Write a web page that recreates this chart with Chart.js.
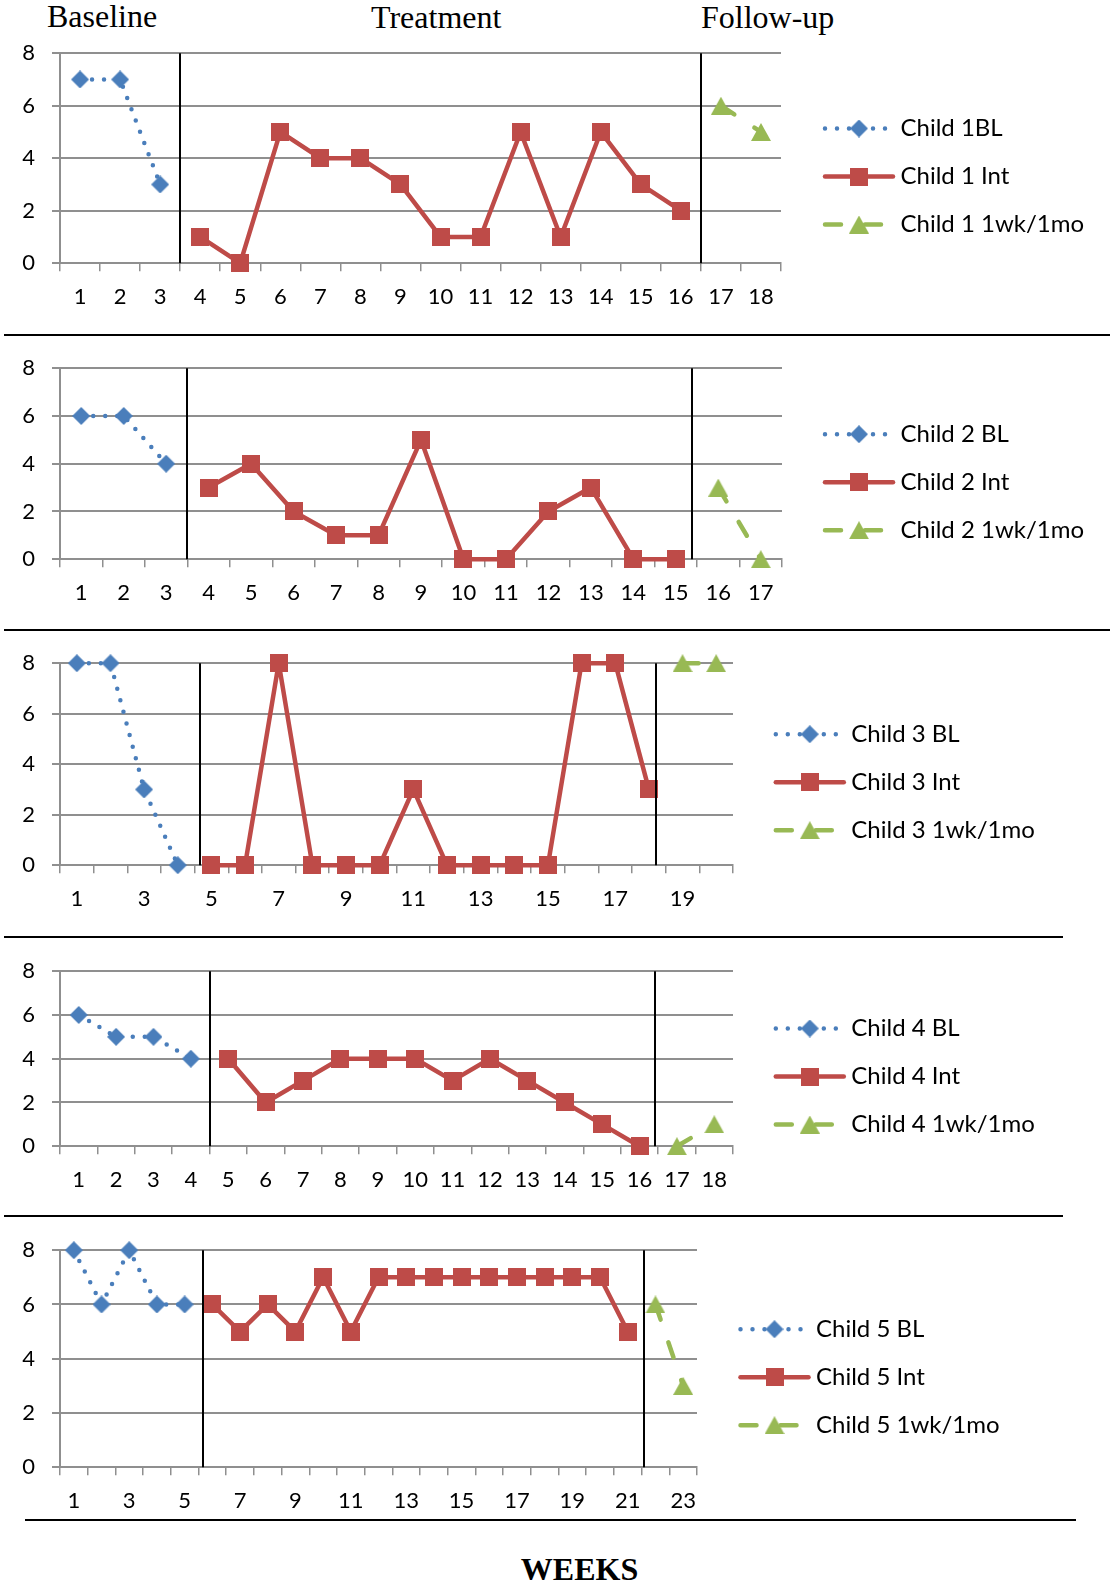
<!DOCTYPE html>
<html>
<head>
<meta charset="utf-8">
<script src="https://cdn.jsdelivr.net/npm/chart.js@4.4.1/dist/chart.umd.min.js"></script>
<style>
  html, body { margin: 0; padding: 0; background: #fff; }
  body { width: 1110px; height: 1585px; position: relative; overflow: hidden; }
  .phase { position: absolute; font-family: "Liberation Serif", "Times New Roman", serif; font-size: 32px; line-height: 32px; color: #000; white-space: nowrap; }
  .rule { position: absolute; height: 2px; background: #000; }
  canvas { position: absolute; left: 0; }
  #weeks { position: absolute; left: 0; width: 1159px; top: 1553px; text-align: center; font-family: "Liberation Serif", "Times New Roman", serif; font-weight: bold; font-size: 32px; line-height: 32px; color: #000; }
</style>
</head>
<body>
<div class="phase" id="ph0" style="left:47px; top:0px;"></div>
<div class="phase" id="ph1" style="left:371px; top:1px;"></div>
<div class="phase" id="ph2" style="left:701px; top:1px;"></div>

<div class="rule" style="top:334px; left:4px; width:1106px;"></div>
<div class="rule" style="top:629px; left:4px; width:1106px;"></div>
<div class="rule" style="top:936px; left:4px; width:1059px;"></div>
<div class="rule" style="top:1215px; left:4px; width:1059px;"></div>
<div class="rule" style="top:1519px; left:25px; width:1051px;"></div>

<div id="weeks"></div>

<canvas id="c1"></canvas>
<canvas id="c2"></canvas>
<canvas id="c3"></canvas>
<canvas id="c4"></canvas>
<canvas id="c5"></canvas>

<script>
// ---- data ----
const phaseNames = ['Baseline', 'Treatment', 'Follow-up'];
const axisTitle = 'WEEKS';
const scoreTicks = [0, 2, 4, 6, 8];

const child1Weeks = [1, 2, 3, 4, 5, 6, 7, 8, 9, 10, 11, 12, 13, 14, 15, 16, 17, 18];
const child1Baseline = [7, 7, 3];
const child1Treatment = [1, 0, 5, 4, 4, 3, 1, 1, 5, 1, 5, 3, 2];
const child1FollowUp = [6, 5];
const child1Series = ['Child 1BL', 'Child 1 Int', 'Child 1 1wk/1mo'];

const child2Weeks = [1, 2, 3, 4, 5, 6, 7, 8, 9, 10, 11, 12, 13, 14, 15, 16, 17];
const child2Baseline = [6, 6, 4];
const child2Treatment = [3, 4, 2, 1, 1, 5, 0, 0, 2, 3, 0, 0];
const child2FollowUp = [3, 0];
const child2Series = ['Child 2 BL', 'Child 2 Int', 'Child 2 1wk/1mo'];

const child3Weeks = [1, 2, 3, 4, 5, 6, 7, 8, 9, 10, 11, 12, 13, 14, 15, 16, 17, 18, 19, 20];
const child3Baseline = [8, 8, 3, 0];
const child3Treatment = [0, 0, 8, 0, 0, 0, 3, 0, 0, 0, 0, 8, 8, 3];
const child3FollowUp = [8, 8];
const child3Series = ['Child 3 BL', 'Child 3 Int', 'Child 3 1wk/1mo'];

const child4Weeks = [1, 2, 3, 4, 5, 6, 7, 8, 9, 10, 11, 12, 13, 14, 15, 16, 17, 18];
const child4Baseline = [6, 5, 5, 4];
const child4Treatment = [4, 2, 3, 4, 4, 4, 3, 4, 3, 2, 1, 0];
const child4FollowUp = [0, 1];
const child4Series = ['Child 4 BL', 'Child 4 Int', 'Child 4 1wk/1mo'];

const child5Weeks = [1, 2, 3, 4, 5, 6, 7, 8, 9, 10, 11, 12, 13, 14, 15, 16, 17, 18, 19, 20, 21, 22, 23];
const child5Baseline = [8, 6, 8, 6, 6];
const child5Treatment = [6, 5, 6, 5, 7, 5, 7, 7, 7, 7, 7, 7, 7, 7, 7, 5];
const child5FollowUp = [6, 3];
const child5Series = ['Child 5 BL', 'Child 5 Int', 'Child 5 1wk/1mo'];

// ---- text ----
phaseNames.forEach((t, i) => { document.getElementById('ph' + i).textContent = t; });
document.getElementById('weeks').textContent = axisTitle;

// ---- styles ----
const BLUE = '#4a7ebb';
const RED = '#be4b48';
const GREEN = '#98b954';
const GRID = '#8f8f8f';
const TICK_FONT = { family: 'Lato', size: 22 };
const LEGEND_FONT = '24px Lato';

function marker(shape, color, w, h) {
  const c = document.createElement('canvas');
  c.width = w; c.height = h;
  const g = c.getContext('2d');
  g.fillStyle = color;
  g.beginPath();
  if (shape === 'diamond') {
    g.moveTo(w / 2, 0); g.lineTo(w, h / 2); g.lineTo(w / 2, h); g.lineTo(0, h / 2);
  } else if (shape === 'triangle') {
    g.moveTo(w / 2, 0); g.lineTo(w, h); g.lineTo(0, h);
  } else {
    g.rect(0, 0, w, h);
  }
  g.closePath();
  g.fill();
  return c;
}
const DIAMOND = marker('diamond', BLUE, 18, 18);
const SQUARE = marker('square', RED, 18, 18);
const TRIANGLE = marker('triangle', GREEN, 20, 18);

// phase lines + legend drawn inside each chart canvas
const phaseAndLegend = {
  id: 'phaseAndLegend',
  afterDatasetsDraw(chart, args, opts) {
    const { ctx, chartArea, scales } = chart;
    const x = scales.x;
    ctx.save();
    ctx.strokeStyle = '#000';
    ctx.lineWidth = 2;
    opts.boundaries.forEach(b => {
      const px = Math.round(x.getPixelForValue(b - 0.5));
      ctx.beginPath();
      ctx.moveTo(px, chartArea.top);
      ctx.lineTo(px, chartArea.bottom);
      ctx.stroke();
    });
    ctx.restore();
  },
  afterDraw(chart, args, opts) {
    const ctx = chart.ctx;
    const canvasTop = parseFloat(chart.canvas.style.top) || 0;
    chart.data.datasets.forEach((ds, i) => {
      const y = opts.legendTop + i * 48 - canvasTop;
      const cx = opts.legendX;
      ctx.save();
      ctx.strokeStyle = ds.borderColor;
      ctx.lineWidth = ds.borderWidth;
      ctx.lineCap = ds.borderCapStyle;
      ctx.setLineDash(ds.borderDash || []);
      ctx.beginPath();
      ctx.moveTo(cx - 34, y);
      ctx.lineTo(cx + 34, y);
      ctx.stroke();
      ctx.setLineDash([]);
      const img = ds.pointStyle;
      ctx.drawImage(img, cx - img.width / 2, y - img.height / 2);
      ctx.fillStyle = '#000';
      ctx.font = LEGEND_FONT;
      ctx.textBaseline = 'middle';
      ctx.textAlign = 'left';
      ctx.fillText(ds.label, cx + 41.5, y);
      ctx.restore();
    });
  }
};

function pad(n) { return new Array(n).fill(null); }

function buildChart(c) {
  const PAD_TOP = 20, X_AXIS_H = 50, Y_AXIS_W = 60;
  const canvas = document.getElementById(c.id);
  let h = (c.bottom - c.top) + PAD_TOP + X_AXIS_H;
  canvas.width = 1110; canvas.height = h;
  canvas.style.top = (c.top - PAD_TOP) + 'px';
  canvas.style.width = '1110px'; canvas.style.height = h + 'px';

  const nB = c.bl.length, nT = c.tr.length, nF = c.fu.length;
  const labels = c.weeks.map(String);
  const blData = c.bl.concat(pad(nT + nF));
  const trData = pad(nB).concat(c.tr, pad(nF));
  const fuData = pad(nB + nT).concat(c.fu);

  const common = { tension: 0, spanGaps: false, clip: false, pointRadius: 9, pointHoverRadius: 9, borderWidth: 4.5, fill: false };

  const chart = new Chart(canvas, {
    type: 'line',
    data: {
      labels: labels,
      datasets: [
        Object.assign({}, common, { label: c.names[0], data: blData, borderColor: BLUE, backgroundColor: BLUE, pointStyle: DIAMOND, borderDash: [0, 12], borderCapStyle: 'round', order: 1 }),
        Object.assign({}, common, { label: c.names[1], data: trData, borderColor: RED, backgroundColor: RED, pointStyle: SQUARE, borderDash: [], borderCapStyle: 'round', borderJoinStyle: 'round', order: 2 }),
        Object.assign({}, common, { label: c.names[2], data: fuData, borderColor: GREEN, backgroundColor: GREEN, pointStyle: TRIANGLE, borderDash: [16, 24], borderCapStyle: 'round', order: 3 })
      ]
    },
    options: {
      responsive: false,
      maintainAspectRatio: false,
      animation: false,
      events: [],
      layout: { padding: { top: PAD_TOP, left: 0, right: 1110 - c.right, bottom: 0 } },
      plugins: {
        legend: { display: false },
        tooltip: { enabled: false },
        title: { display: false },
        phaseAndLegend: {
          boundaries: [nB + c.nudge[0], nB + nT + c.nudge[1]],
          legendX: c.legendX,
          legendTop: c.legendTop
        }
      },
      scales: {
        x: {
          type: 'category',
          offset: true,
          grid: { offset: true, drawOnChartArea: false, drawTicks: true, tickLength: 8, color: GRID, lineWidth: 1.5 },
          border: { display: true, color: GRID, width: 2 },
          ticks: {
            autoSkip: false, maxRotation: 0, minRotation: 0, padding: 13,
            color: '#000', font: TICK_FONT,
            callback: (v, i) => (i % c.labelStep === 0 ? labels[i] : '')
          },
          afterFit: s => { s.height = X_AXIS_H; }
        },
        y: {
          min: 0, max: 8,
          afterBuildTicks: s => { s.ticks = scoreTicks.map(v => ({ value: v })); },
          grid: { color: GRID, lineWidth: 2, tickLength: 8, drawTicks: true },
          border: { display: true, color: GRID, width: 2 },
          ticks: { padding: 17, color: '#000', font: TICK_FONT },
          afterFit: s => { s.width = Y_AXIS_W; }
        }
      }
    },
    plugins: [phaseAndLegend]
  });

  // keep the plot area at the intended page position: if the layout reserved
  // more room above the plot than asked for, grow the canvas and shift it up
  const extra = chart.chartArea.top - PAD_TOP;
  if (extra !== 0) {
    h += extra;
    canvas.style.top = (c.top - chart.chartArea.top) + 'px';
    canvas.style.height = h + 'px';
    chart.resize(1110, h);
    chart.update('none');
  }
}

const charts = [
  { id: 'c1', weeks: child1Weeks, bl: child1Baseline, tr: child1Treatment, fu: child1FollowUp, names: child1Series,
    top: 53, bottom: 263, right: 781, labelStep: 1, nudge: [0, 0], legendX: 859, legendTop: 128.3 },
  { id: 'c2', weeks: child2Weeks, bl: child2Baseline, tr: child2Treatment, fu: child2FollowUp, names: child2Series,
    top: 368, bottom: 559, right: 782, labelStep: 1, nudge: [0, -0.11], legendX: 859, legendTop: 434 },
  { id: 'c3', weeks: child3Weeks, bl: child3Baseline, tr: child3Treatment, fu: child3FollowUp, names: child3Series,
    top: 663, bottom: 865, right: 733, labelStep: 2, nudge: [0.16, -0.29], legendX: 809.8, legendTop: 734 },
  { id: 'c4', weeks: child4Weeks, bl: child4Baseline, tr: child4Treatment, fu: child4FollowUp, names: child4Series,
    top: 971, bottom: 1146, right: 733, labelStep: 1, nudge: [0, -0.08], legendX: 809.8, legendTop: 1028.3 },
  { id: 'c5', weeks: child5Weeks, bl: child5Baseline, tr: child5Treatment, fu: child5FollowUp, names: child5Series,
    top: 1250, bottom: 1467, right: 697, labelStep: 2, nudge: [0.18, 0.08], legendX: 774.5, legendTop: 1329 }
];

charts.forEach(buildChart);
</script>
</body>
</html>
